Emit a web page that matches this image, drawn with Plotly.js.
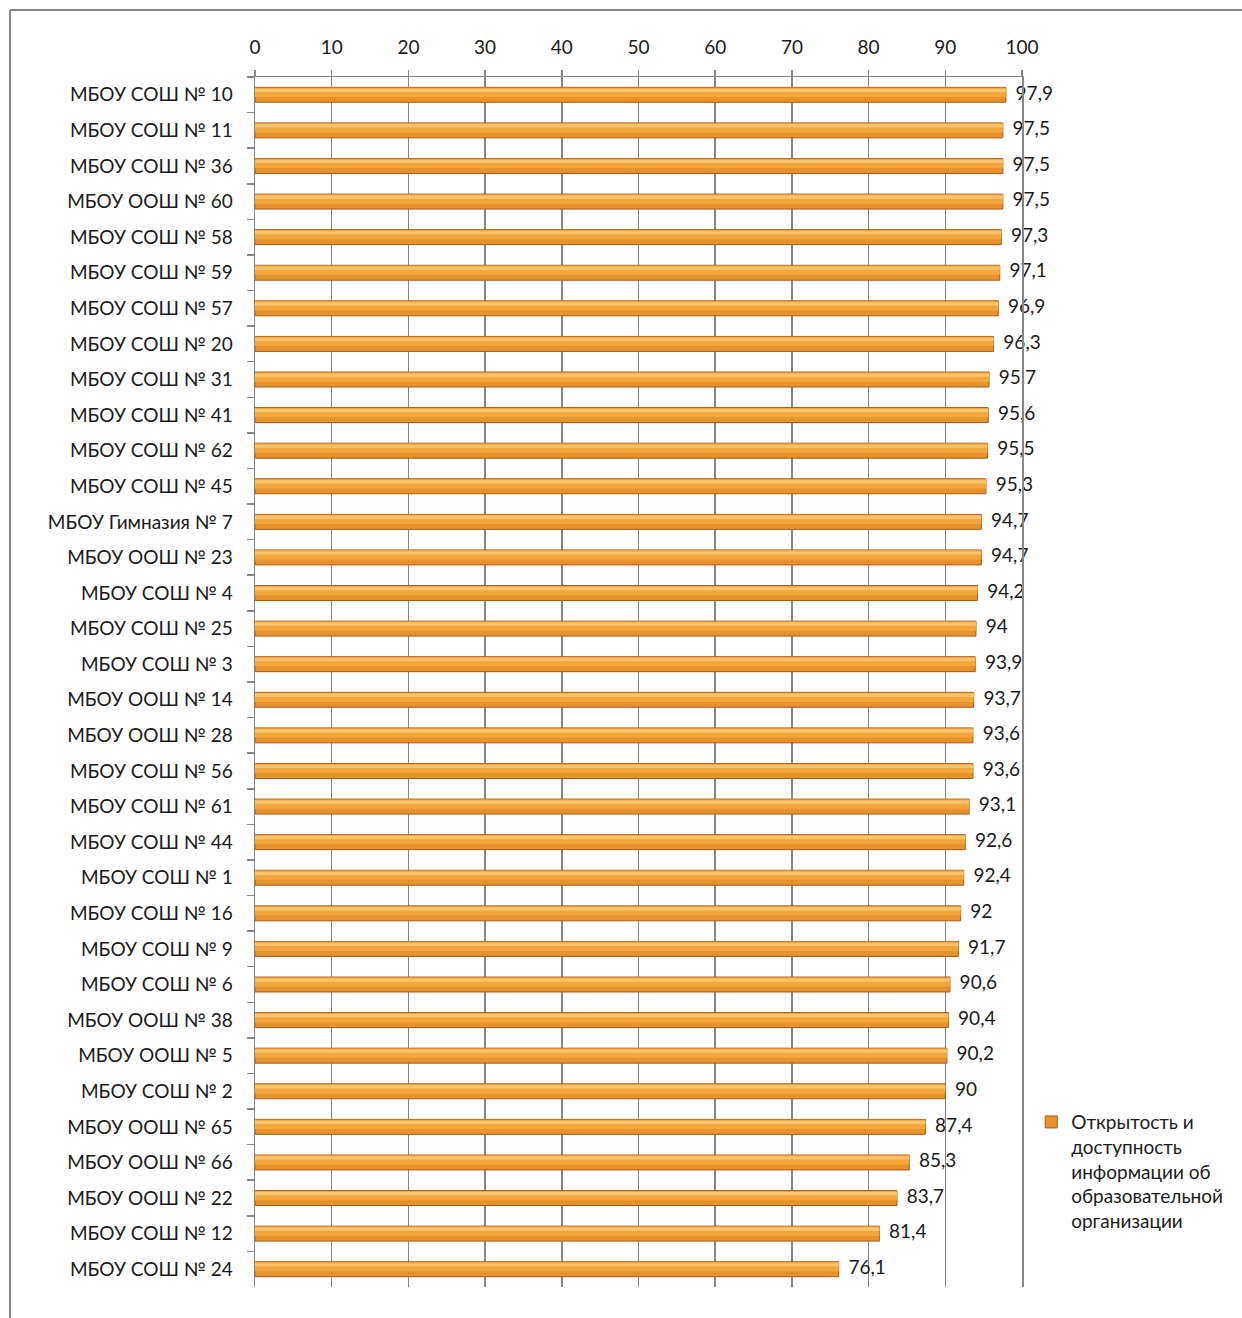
<!DOCTYPE html>
<html>
<head>
<meta charset="utf-8">
<script src="https://cdn.plot.ly/plotly-3.0.1.min.js"></script>
<style>html,body{margin:0;padding:0;background:#fff;}#chart{width:1242px;height:1318px;}</style>
</head>
<body>
<div id="chart"></div>
<script>
const schools = [
  "МБОУ СОШ № 10","МБОУ СОШ № 11","МБОУ СОШ № 36","МБОУ ООШ № 60","МБОУ СОШ № 58",
  "МБОУ СОШ № 59","МБОУ СОШ № 57","МБОУ СОШ № 20","МБОУ СОШ № 31","МБОУ СОШ № 41",
  "МБОУ СОШ № 62","МБОУ СОШ № 45","МБОУ Гимназия № 7","МБОУ ООШ № 23","МБОУ СОШ № 4",
  "МБОУ СОШ № 25","МБОУ СОШ № 3","МБОУ ООШ № 14","МБОУ ООШ № 28","МБОУ СОШ № 56",
  "МБОУ СОШ № 61","МБОУ СОШ № 44","МБОУ СОШ № 1","МБОУ СОШ № 16","МБОУ СОШ № 9",
  "МБОУ СОШ № 6","МБОУ ООШ № 38","МБОУ ООШ № 5","МБОУ СОШ № 2","МБОУ ООШ № 65",
  "МБОУ ООШ № 66","МБОУ ООШ № 22","МБОУ СОШ № 12","МБОУ СОШ № 24"
];
const scores = [
  97.9,97.5,97.5,97.5,97.3,
  97.1,96.9,96.3,95.7,95.6,
  95.5,95.3,94.7,94.7,94.2,
  94,93.9,93.7,93.6,93.6,
  93.1,92.6,92.4,92,91.7,
  90.6,90.4,90.2,90,87.4,
  85.3,83.7,81.4,76.1
];
const seriesName = "Открытость и<br>доступность<br>информации об<br>образовательной<br>организации";
const xTicks = [0,10,20,30,40,50,60,70,80,90,100];

const labels = scores.map(v => "  " + String(v).replace('.', ','));
const FONT = "Lato, 'Open Sans', sans-serif";
const grey = "#868686";

const traces = [
  {
    type: "bar", orientation: "h", y: schools, x: scores, name: seriesName,
    width: 0.42, offset: -0.21,
    marker: {color: "#E8922C", line: {color: "#A8581A", width: 1}},
    hoverinfo: "x+y"
  },
  {
    type: "bar", orientation: "h", y: schools, x: scores, showlegend: false,
    width: 0.26, offset: -0.20,
    marker: {color: "#F4A63E", line: {width: 0}}, hoverinfo: "skip"
  },
  {
    type: "bar", orientation: "h", y: schools, x: scores, showlegend: false,
    width: 0.09, offset: -0.17,
    marker: {color: "#FAC46C", line: {width: 0}}, hoverinfo: "skip"
  },
  {
    type: "scatter", mode: "text", y: schools, x: scores, showlegend: false,
    text: labels, textposition: "middle right", cliponaxis: false,
    textfont: {family: FONT, size: 19, color: "#1a1a1a"}, hoverinfo: "skip"
  }
];

const layout = {
  width: 1242, height: 1318,
  margin: {l: 255, r: 220, t: 77, b: 31},
  paper_bgcolor: "#fff", plot_bgcolor: "#fff",
  barmode: "overlay",
  font: {family: FONT, size: 19, color: "#1a1a1a"},
  showlegend: true,
  legend: {x: 1.012, xanchor: "left", y: 0.152, yanchor: "top", valign: "top",
           font: {family: FONT, size: 19, color: "#1a1a1a"}, itemwidth: 30, tracegroupgap: 0},
  xaxis: {
    side: "top", range: [0, 100], tickvals: xTicks, ticktext: xTicks.map(String),
    showgrid: true, gridcolor: grey, gridwidth: 1.5,
    showline: true, linecolor: grey, linewidth: 1.5,
    ticks: "outside", ticklen: 6, tickcolor: grey, tickwidth: 1.5,
    ticklabelstandoff: 8,
    zeroline: false, tickfont: {family: FONT, size: 19, color: "#1a1a1a"}, fixedrange: true
  },
  yaxis: {
    type: "category", range: [schools.length - 0.5, -0.5], tickson: "boundaries",
    ticks: "outside", ticklen: 7, tickcolor: grey, tickwidth: 1.5,
    showline: true, mirror: true, linecolor: grey, linewidth: 1.5, showgrid: false,
    ticklabelstandoff: 17,
    tickfont: {family: FONT, size: 19, color: "#1a1a1a"}, fixedrange: true
  },
  shapes: [
    {type: "line", xref: "paper", yref: "paper", x0: -0.3194, x1: 1.4, y0: 1.0554, y1: 1.0554,
     line: {color: grey, width: 2}},
    {type: "line", xref: "paper", yref: "paper", x0: -0.3194, x1: -0.3194, y0: 1.0554, y1: -0.1,
     line: {color: grey, width: 2}}
  ]
};

Plotly.newPlot("chart", traces, layout, {displayModeBar: false, staticPlot: true});
</script>
</body>
</html>
